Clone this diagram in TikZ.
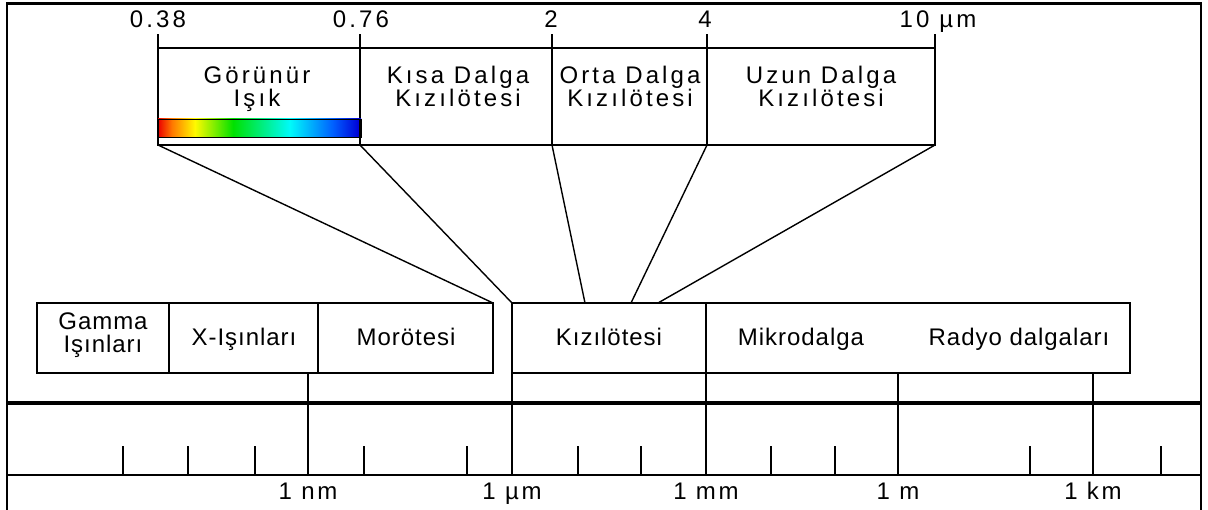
\documentclass[tikz,border=0pt]{standalone}
\usepackage{fontspec}
\setmainfont{Liberation Sans}
\newfontfamily\cellfont[LetterSpace=4]{Liberation Sans}
\newfontfamily\axisfont[LetterSpace=11]{Liberation Sans}
\newfontfamily\headfont[LetterSpace=13]{Liberation Sans}

% spectrum colours for the visible-light bar
\definecolor{spR}{RGB}{235,0,0}
\definecolor{spO}{RGB}{255,120,0}
\definecolor{spY}{RGB}{255,250,0}
\definecolor{spG}{RGB}{0,225,0}
\definecolor{spC}{RGB}{0,250,250}
\definecolor{spB}{RGB}{0,95,255}
\definecolor{spD}{RGB}{0,0,215}
\pgfdeclarehorizontalshading{spectrum}{100bp}{%
  color(0bp)=(spR); color(25bp)=(spR); color(28.4bp)=(spO);
  color(34.1bp)=(spY); color(43.5bp)=(spG); color(57.5bp)=(spC);
  color(68.1bp)=(spB); color(74.5bp)=(spD); color(100bp)=(spD)}

\tikzset{
  cell/.style={draw, line width=1.3pt, inner sep=0pt, outer sep=0pt,
               anchor=north west, minimum height=#1},
  cell/.default=97pt,
  boxtext/.style={font=\cellfont\fontsize{24}{23}\selectfont,
                  align=center, anchor=base, inner sep=0pt},
  scaletext/.style={font=\axisfont\fontsize{24}{23}\selectfont,
                  align=center, anchor=base, inner sep=0pt},
  toptext/.style={font=\headfont\fontsize{24}{23}\selectfont,
                  align=center, anchor=base, inner sep=0pt},
  lead/.style={line width=1.4pt},
  rule/.style={line width=1.3pt},
  heavy/.style={line width=3.3pt},
  framing/.style={line width=2.5pt}
}

\begin{document}
\begin{tikzpicture}[x=1pt, y=-1pt, line cap=butt]
\useasboundingbox (0,0) rectangle (1208,510);

% outer frame
\draw[framing] (7,515) -- (7,3.5) -- (1201,3.5) -- (1201,515);

% ---- infrared detail (top) ----
\node[cell, minimum width=202pt] (vis)  at (158,48) {};
\node[cell, minimum width=192pt] (swir) at (360,48) {};
\node[cell, minimum width=155pt] (mwir) at (552,48) {};
\node[cell, minimum width=228pt] (lwir) at (707,48) {};

% scale ticks above the detail box
\foreach \c in {vis.north west, swir.north west, mwir.north west,
                lwir.north west, lwir.north east}
  \draw[rule] (\c) -- ++(0,-14);

\node[toptext] at (158,28) {0.38};
\node[toptext] at (361,28) {0.76};
\node[toptext] at (551,28) {2};
\node[toptext] at (705,28) {4};
\node[toptext] at (938,28) {10 µm};

% two-line labels: the base anchor sits on the last line
\node[toptext] at (257,107) {Görünür\\Işık};
\node[toptext] at (458,107) {Kısa Dalga\\Kızılötesi};
\node[toptext] at (630,107) {Orta Dalga\\Kızılötesi};
\node[toptext] at (821,107) {Uzun Dalga\\Kızılötesi};

% visible spectrum bar
\shade[shading=spectrum] (158,119) rectangle (361,137);
\draw[line width=0.9pt] (158,119) rectangle (361,137);
\draw[line width=2.8pt] (360.5,119) -- (360.5,137.5);

% ---- main spectrum bands ----
\node[cell=70pt, minimum width=132pt] (gam) at (37,303) {};
\node[cell=70pt, minimum width=149pt] (xr)  at (169,303) {};
\node[cell=70pt, minimum width=175pt] (uv)  at (318,303) {};
\node[cell=70pt, minimum width=194pt] (ir)  at (512,303) {};
\node[cell=70pt, minimum width=424pt] (lw)  at (706,303) {};

\node[boxtext] at (103,353) {Gamma\\Işınları};
\node[boxtext] at (244,346) {X-Işınları};
\node[boxtext] at (406,346) {Morötesi};
\node[boxtext] at (609,346) {Kızılötesi};
\node[boxtext] at (801,346) {Mikrodalga};
\node[boxtext] at (1019,346) {Radyo dalgaları};

% fan from the detail box to the infrared band
\coordinate (irA) at (585,303);
\coordinate (irB) at (631,303);
\coordinate (irC) at (658,303);
\draw[lead] (vis.south west) -- (uv.north east);
\draw[lead] (vis.south east) -- (ir.north west);
\draw[lead] (swir.south east) -- (irA);
\draw[lead] (mwir.south east) -- (irB);
\draw[lead] (lwir.south east) -- (irC);

% ---- wavelength scale ----
\draw[heavy] (7,403) -- (1201,403);
\draw[rule]  (7,475) -- (1201,475);

\coordinate (nm) at (308,475);
\coordinate (um) at (512,475);
\coordinate (mm) at (706,475);
\coordinate (mt) at (898,475);
\coordinate (km) at (1093,475);

\draw[rule] (nm |- uv.south) -- (nm);
\draw[rule] (um |- ir.south) -- (um);
\draw[rule] (mm |- lw.south) -- (mm);
\draw[rule] (mt |- lw.south) -- (mt);
\draw[rule] (km |- lw.south) -- (km);

\foreach \x in {123,188,255,364,467,578,641,771,835,1030,1161}
  \draw[rule] (\x,475) -- (\x,446);

\node[scaletext] at ([yshift=-25pt]nm) {1 nm};
\node[scaletext] at ([yshift=-25pt]um) {1 µm};
\node[scaletext] at ([yshift=-25pt]mm) {1 mm};
\node[scaletext] at ([yshift=-25pt]mt) {1 m};
\node[scaletext] at ([yshift=-25pt]km) {1 km};
\end{tikzpicture}
\end{document}
